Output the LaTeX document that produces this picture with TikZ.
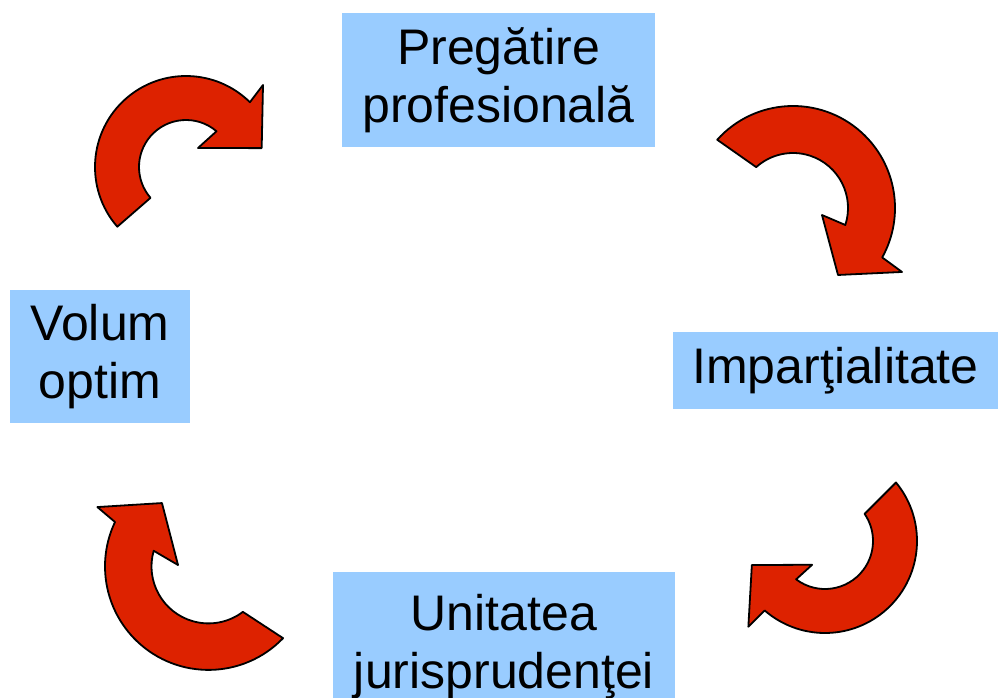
\documentclass[tikz,border=0pt]{standalone}
\usepackage{fontspec}
\setmainfont{Liberation Sans}
\usetikzlibrary{positioning}
\definecolor{boxblue}{HTML}{99CCFF}
\definecolor{arrowred}{HTML}{DD2200}

\begin{document}
\begin{tikzpicture}[
        x=1pt, y=1pt,
        every node/.style={font=\fontsize{50}{58}\selectfont},
        stage/.style={rectangle, fill=boxblue, inner sep=0pt, align=center},
        turn/.style={fill=arrowred, draw=black, line width=1.8pt, line join=round}
    ]
    \useasboundingbox (0,0) rectangle (998,-698);
    \node[stage, minimum width=313pt, minimum height=134pt] (prep) at (498.5,-80) {Pregătire\\profesională};
    \node[stage, minimum width=325pt, minimum height=77pt] (impart) at (835.5,-370.5) {Imparţialitate};
    \node[stage, minimum width=342pt, minimum height=150pt] (unit) at (504,-647) {Unitatea\\jurisprudenţei};
    \node[stage, minimum width=180pt, minimum height=133pt] (volum) at (100,-356.5) {Volum\\optim};
    % curved arrows of the cycle
    \draw[turn, shift={(186,-167)}] (221:91) arc[start angle=221, end angle=45.4, radius=91] -- (46.8:112.5) -- (14:78) -- (57.7:22.5) -- (49.5:47) arc[start angle=49.5, end angle=221, radius=47] -- cycle;
    \draw[turn, shift={(793,-208)}] (138:102) arc[start angle=138, end angle=-29, radius=102] -- (-30.4:126.4) -- (-56.1:80.7) -- (-13.6:29.8) -- (-18:55) arc[start angle=-18, end angle=132, radius=55] -- cycle;
    \draw[turn, shift={(825,-541)}] (39.5:92) arc[start angle=39.5, end angle=-131, radius=92] -- (-131.8:115) -- (-161.8:77) -- (-118.4:27) -- (-127:48) arc[start angle=-127, end angle=34.4, radius=48] -- cycle;
    \draw[turn, shift={(208.5,-566.4)}] (-43.9:103.5) arc[start angle=-43.9, end angle=-205.4, radius=103.5] -- (151.9:126) -- (126.3:78.6) -- (177.4:30.5) -- (164.1:57) arc[start angle=-195.9, end angle=-52.9, radius=57] -- cycle;
\end{tikzpicture}
\end{document}
